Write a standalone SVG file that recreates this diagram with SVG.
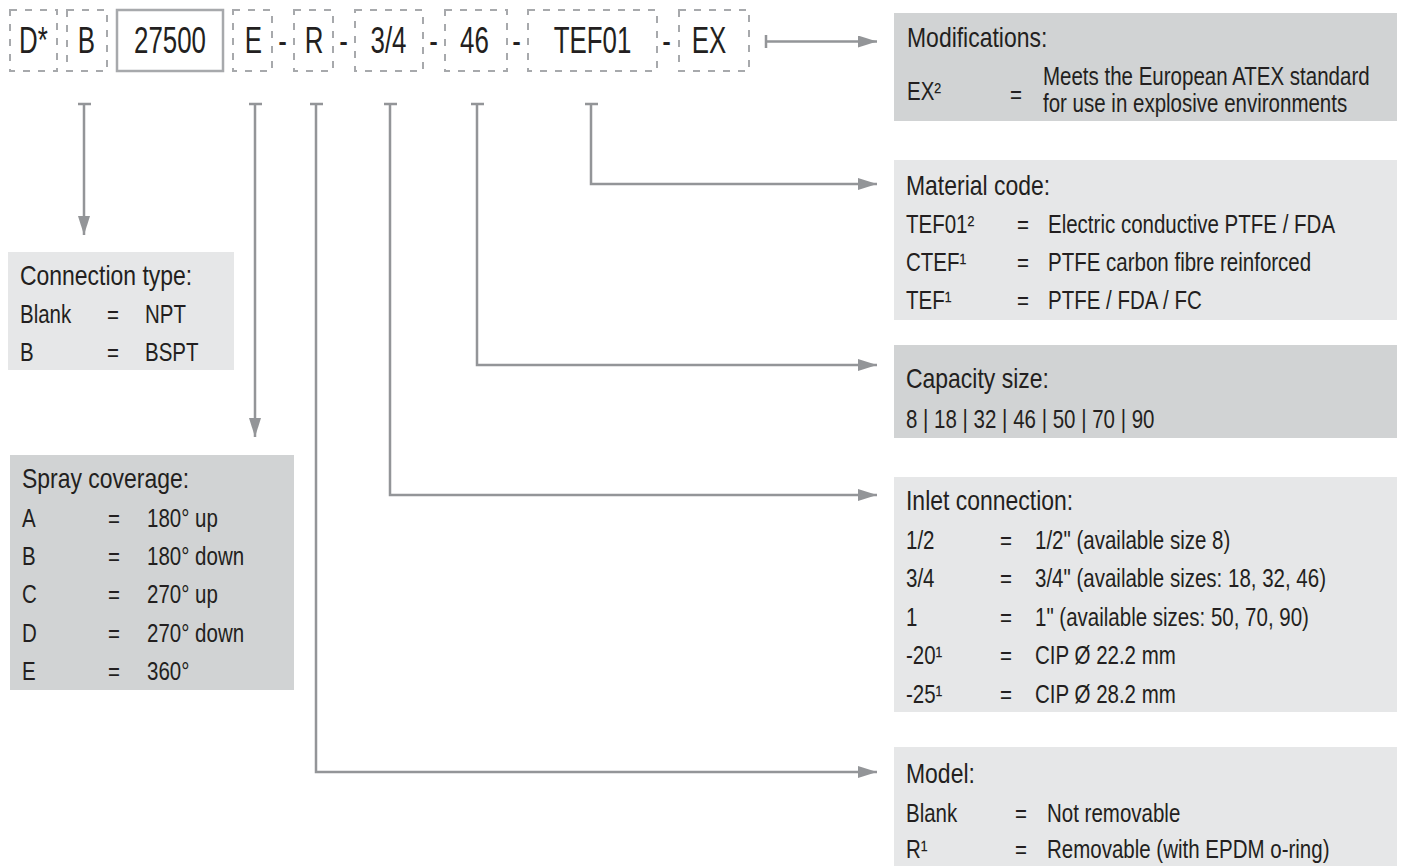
<svg xmlns="http://www.w3.org/2000/svg" width="1403" height="866" viewBox="0 0 1403 866">
<defs>
<style>
text{font-family:"Liberation Sans Narrow","Liberation Sans",Arial,sans-serif;fill:#231f20;transform-box:fill-box;}
.code{font-size:37px;text-anchor:middle;transform-origin:50% 0;transform:scaleX(0.7);}
.t{font-size:28px;transform-origin:0 0;transform:scaleX(0.82);}
.b{font-size:25px;transform-origin:0 0;transform:scaleX(0.82);}
.dash{fill:none;stroke:#a7a9ac;stroke-width:2;stroke-dasharray:7 8;}
.solid{fill:none;stroke:#a7a9ac;stroke-width:2.5;}
.mid{fill:#d1d3d4;}
.lt{fill:#e6e7e8;}
.con{fill:none;stroke:#939598;stroke-width:2.5;}
</style>
<marker id="arr" markerUnits="userSpaceOnUse" markerWidth="20" markerHeight="12" refX="19" refY="6" orient="auto">
<path d="M0,0 L19,6 L0,12 Z" fill="#939598"/>
</marker>
</defs>
<rect width="1403" height="866" fill="#fff"/>

<g id="code-row">
<rect class="dash" x="10" y="10" width="47" height="61"/>
<rect class="dash" x="67" y="10" width="40" height="61"/>
<rect class="solid" x="117" y="10" width="106" height="61"/>
<rect class="dash" x="233" y="10" width="39" height="61"/>
<rect class="dash" x="294" y="10" width="39" height="61"/>
<rect class="dash" x="355" y="10" width="68" height="61"/>
<rect class="dash" x="445" y="10" width="62" height="61"/>
<rect class="dash" x="528" y="10" width="129" height="61"/>
<rect class="dash" x="679" y="10" width="70" height="61"/>
<text class="code" x="33.5" y="53">D*</text>
<text class="code" x="86.5" y="53">B</text>
<text class="code" x="170" y="53">27500</text>
<text class="code" x="253.5" y="53">E</text>
<text class="code" x="282.5" y="53">-</text>
<text class="code" x="314" y="53">R</text>
<text class="code" x="343.5" y="53">-</text>
<text class="code" x="388.5" y="53">3/4</text>
<text class="code" x="433.5" y="53">-</text>
<text class="code" x="474.5" y="53">46</text>
<text class="code" x="516.5" y="53">-</text>
<text class="code" x="592.5" y="53">TEF01</text>
<text class="code" x="666.5" y="53">-</text>
<text class="code" x="709" y="53">EX</text>
</g>

<g id="connectors">
<path class="con" d="M78 104 H91 M84 104 V235" marker-end="url(#arr)"/>
<path class="con" d="M249 104 H262 M255 104 V437" marker-end="url(#arr)"/>
<path class="con" d="M310 104 H323 M316 104 V772 H877" marker-end="url(#arr)"/>
<path class="con" d="M384 104 H397 M390 104 V495 H877" marker-end="url(#arr)"/>
<path class="con" d="M471 104 H484 M477 104 V365 H877" marker-end="url(#arr)"/>
<path class="con" d="M585 104 H598 M591 104 V184 H877" marker-end="url(#arr)"/>
<path class="con" d="M766 35 V48 M766 41.5 H877" marker-end="url(#arr)"/>
</g>

<g id="modifications">
<rect class="mid" x="894" y="13" width="503" height="108"/>
<text class="t" x="907" y="47">Modifications:</text>
<text class="b" x="907" y="100">EX²</text>
<text class="b" x="1010" y="103">=</text>
<text class="b" x="1043" y="85">Meets the European ATEX standard</text>
<text class="b" x="1043" y="112">for use in explosive environments</text>
</g>

<g id="material-code">
<rect class="lt" x="894" y="160" width="503" height="160"/>
<text class="t" x="906" y="195">Material code:</text>
<text class="b" x="906" y="233">TEF01²</text>
<text class="b" x="1017" y="233">=</text>
<text class="b" x="1048" y="233">Electric conductive PTFE / FDA</text>
<text class="b" x="906" y="271">CTEF¹</text>
<text class="b" x="1017" y="271">=</text>
<text class="b" x="1048" y="271">PTFE carbon fibre reinforced</text>
<text class="b" x="906" y="309">TEF¹</text>
<text class="b" x="1017" y="309">=</text>
<text class="b" x="1048" y="309">PTFE / FDA / FC</text>
</g>

<g id="capacity-size">
<rect class="mid" x="894" y="345" width="503" height="93"/>
<text class="t" x="906" y="388">Capacity size:</text>
<text class="b" x="906" y="428">8 | 18 | 32 | 46 | 50 | 70 | 90</text>
</g>

<g id="inlet-connection">
<rect class="lt" x="894" y="477" width="503" height="235"/>
<text class="t" x="906" y="510">Inlet connection:</text>
<text class="b" x="906" y="549">1/2</text>
<text class="b" x="1000" y="549">=</text>
<text class="b" x="1035" y="549">1/2" (available size 8)</text>
<text class="b" x="906" y="587">3/4</text>
<text class="b" x="1000" y="587">=</text>
<text class="b" x="1035" y="587">3/4" (available sizes: 18, 32, 46)</text>
<text class="b" x="906" y="626">1</text>
<text class="b" x="1000" y="626">=</text>
<text class="b" x="1035" y="626">1" (available sizes: 50, 70, 90)</text>
<text class="b" x="906" y="664">-20¹</text>
<text class="b" x="1000" y="664">=</text>
<text class="b" x="1035" y="664">CIP Ø 22.2 mm</text>
<text class="b" x="906" y="703">-25¹</text>
<text class="b" x="1000" y="703">=</text>
<text class="b" x="1035" y="703">CIP Ø 28.2 mm</text>
</g>

<g id="model">
<rect class="lt" x="894" y="747" width="503" height="119"/>
<text class="t" x="906" y="783">Model:</text>
<text class="b" x="906" y="822">Blank</text>
<text class="b" x="1015" y="822">=</text>
<text class="b" x="1047" y="822">Not removable</text>
<text class="b" x="906" y="858">R¹</text>
<text class="b" x="1015" y="858">=</text>
<text class="b" x="1047" y="858">Removable (with EPDM o-ring)</text>
</g>

<g id="connection-type">
<rect class="lt" x="8" y="252" width="226" height="118"/>
<text class="t" x="20" y="285">Connection type:</text>
<text class="b" x="20" y="323">Blank</text>
<text class="b" x="107" y="323">=</text>
<text class="b" x="145" y="323">NPT</text>
<text class="b" x="20" y="361">B</text>
<text class="b" x="107" y="361">=</text>
<text class="b" x="145" y="361">BSPT</text>
</g>

<g id="spray-coverage">
<rect class="mid" x="10" y="455" width="284" height="235"/>
<text class="t" x="22" y="488">Spray coverage:</text>
<text class="b" x="22" y="527">A</text>
<text class="b" x="108" y="527">=</text>
<text class="b" x="147" y="527">180° up</text>
<text class="b" x="22" y="565">B</text>
<text class="b" x="108" y="565">=</text>
<text class="b" x="147" y="565">180° down</text>
<text class="b" x="22" y="603">C</text>
<text class="b" x="108" y="603">=</text>
<text class="b" x="147" y="603">270° up</text>
<text class="b" x="22" y="642">D</text>
<text class="b" x="108" y="642">=</text>
<text class="b" x="147" y="642">270° down</text>
<text class="b" x="22" y="680">E</text>
<text class="b" x="108" y="680">=</text>
<text class="b" x="147" y="680">360°</text>
</g>
</svg>
